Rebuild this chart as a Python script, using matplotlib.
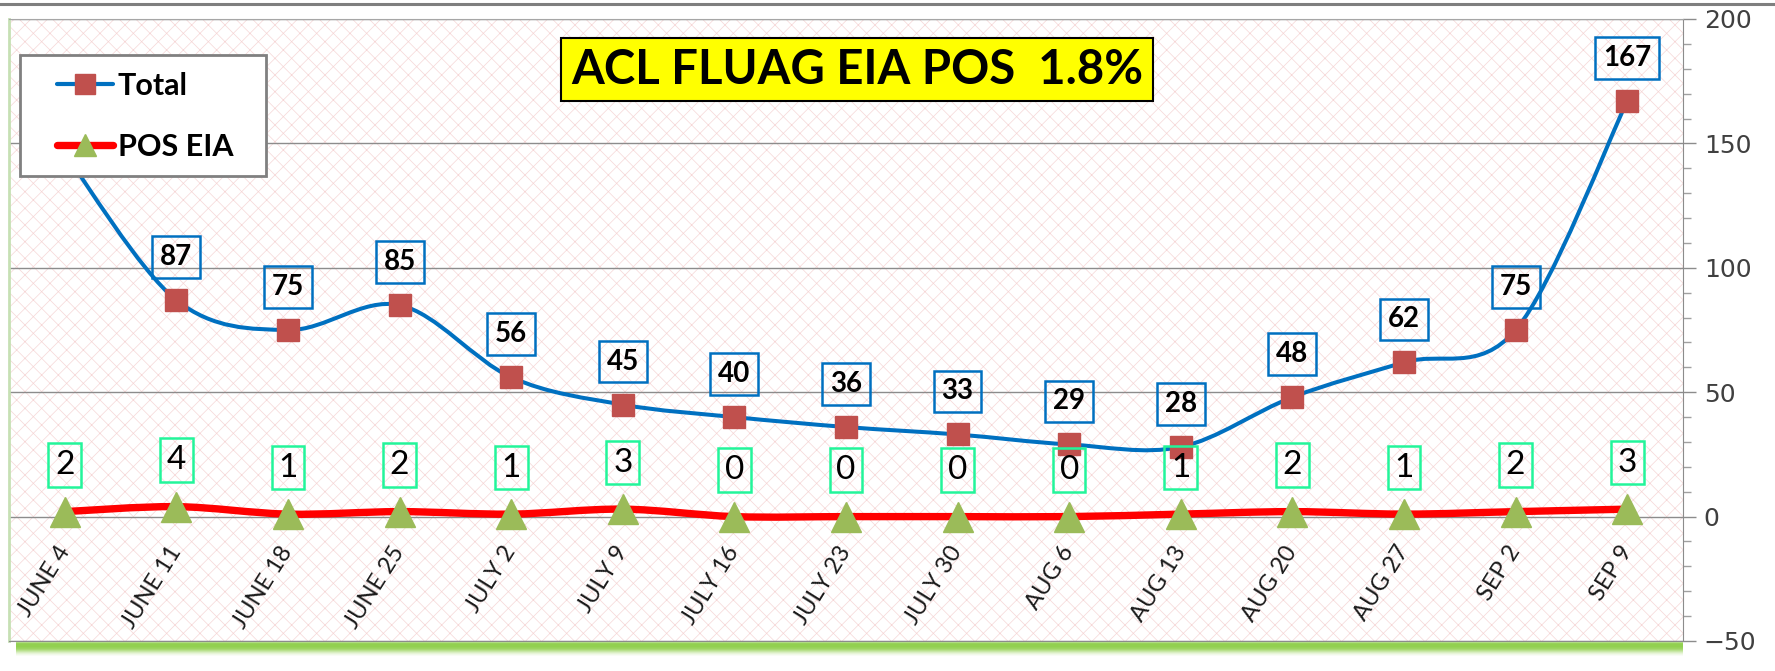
import numpy as np
import matplotlib
matplotlib.use("Agg")
import matplotlib.pyplot as plt
from matplotlib.path import Path
from matplotlib.patches import PathPatch, Rectangle
from matplotlib.lines import Line2D
from matplotlib.ticker import MultipleLocator

# DATA
dates = ["JUNE 4", "JUNE 11", "JUNE 18", "JUNE 25", "JULY 2", "JULY 9", "JULY 16",
         "JULY 23", "JULY 30", "AUG 6", "AUG 13", "AUG 20", "AUG 27", "SEP 2", "SEP 9"]
total = [146, 87, 75, 85, 56, 45, 40, 36, 33, 29, 28, 48, 62, 75, 167]
pos_eia = [2, 4, 1, 2, 1, 3, 0, 0, 0, 0, 1, 2, 1, 2, 3]
title = "ACL FLUAG EIA POS  1.8%"
y_ticks = [-50, 0, 50, 100, 150, 200]

W, H = 1775, 671
FONT = ["Lato", "DejaVu Sans"]
plt.rcParams["hatch.linewidth"] = 0.5


# excel style smoothed line (bezier through the points)
def smooth_path(xs, ys):
    pts = np.column_stack([xs, ys]).astype(float)
    n = len(pts)
    verts = [pts[0]]
    codes = [Path.MOVETO]
    for i in range(n - 1):
        p0 = pts[i - 1] if i > 0 else pts[i]
        p1 = pts[i]
        p2 = pts[i + 1]
        p3 = pts[i + 2] if i + 2 < n else pts[i + 1]
        verts += [p1 + (p2 - p0) / 6, p2 - (p3 - p1) / 6, p2]
        codes += [Path.CURVE4] * 3
    return Path(verts, codes)


fig = plt.figure(figsize=(W / 100, H / 100), dpi=100)
ax = fig.add_axes([9 / W, 1 - 641 / H, 1674 / W, 622 / H])
ax.set_facecolor("white")
ax.add_patch(Rectangle((0, 0), 1, 1, transform=ax.transAxes, facecolor="white",
                       edgecolor="#f6d6d6", hatch="xx", lw=0, zorder=0))

x = np.arange(len(dates))

# lines
ax.add_patch(PathPatch(smooth_path(x, total), fill=False, edgecolor="#0070C0", lw=2.9, zorder=3))
ax.add_patch(PathPatch(smooth_path(x, pos_eia), fill=False, edgecolor="#FF0000", lw=5.3, zorder=3,
                       capstyle="round"))
ax.plot(x, total, ls="none", marker="s", ms=16, mfc="#C0504D", mec="#C0504D", zorder=4)
ax.plot(x, pos_eia, ls="none", marker="^", ms=22, mfc="#9BBB59", mec="#9BBB59", zorder=4)

# data labels
for i, v in enumerate(total):
    ax.annotate(str(v), (i, v), xytext=(0, 31), textcoords="offset points",
                ha="center", va="center", fontsize=20, fontweight="bold", family=FONT,
                bbox=dict(boxstyle="square,pad=0.28", fc="none", ec="#0070C0", lw=1.8),
                zorder=6)
for i, v in enumerate(pos_eia):
    ax.annotate(str(v), (i, v), xytext=(0, 33.5), textcoords="offset points",
                ha="center", va="center", fontsize=24, family=FONT,
                bbox=dict(boxstyle="square,pad=0.2", fc="none", ec="#22F59A", lw=1.8),
                zorder=6)

# category labels sit just under the zero line
ax.set_xticks([])
for i, d in enumerate(dates):
    ax.text(i, -12.5, d, rotation=58, rotation_mode="anchor", ha="right", va="center",
            fontsize=17, family=FONT, color="#1a1a1a", zorder=5)

ax.set_xlim(-0.5, len(dates) - 0.5)
ax.set_ylim(-50, 200)
ax.yaxis.tick_right()
ax.set_yticks(y_ticks)
ax.yaxis.set_minor_locator(MultipleLocator(10))
ax.tick_params(axis="y", which="major", direction="out", length=9, width=1,
               color="#8c8c8c", labelsize=18, labelcolor="#404040", pad=6)
ax.tick_params(axis="y", which="minor", direction="out", length=6, width=1, color="#a0a0a0")
for t in ax.get_yticklabels():
    t.set_family("DejaVu Sans")
ax.grid(axis="y", which="major", color="#8c8c8c", lw=1, zorder=1)

ax.spines["right"].set_color("#8c8c8c")
ax.spines["top"].set_color("#a6a6a6")
ax.spines["bottom"].set_color("#8c8c8c")
ax.spines["left"].set_color("#c6e0b4")
ax.spines["left"].set_linewidth(2)

# legend: own frame, frameless legend inside it
ax.add_patch(Rectangle((11 / 1674, 1 - 157 / 622), 246 / 1674, 121 / 622, transform=ax.transAxes,
                       facecolor="white", edgecolor="#808080", lw=2, zorder=9))
handles = [
    Line2D([], [], color="#0070C0", lw=3, marker="s", ms=15, mfc="#C0504D", mec="#C0504D",
           solid_capstyle="round"),
    Line2D([], [], color="#FF0000", lw=5.3, marker="^", ms=16, mfc="#9BBB59", mec="#9BBB59",
           solid_capstyle="round"),
]
leg = ax.legend(handles, ["Total", "POS EIA"], loc="upper left",
                bbox_to_anchor=(48 / 1674, 1 - 53 / 622), frameon=False,
                borderaxespad=0, borderpad=0, labelspacing=1.08, handlelength=1.83,
                handletextpad=0.16, prop={"family": FONT, "size": 22, "weight": "bold"})
leg.set_zorder(10)

# title box
fig.text(857 / W, 1 - 69.5 / H, title, fontsize=34, fontweight="bold", family=FONT,
         ha="center", va="center",
         bbox=dict(boxstyle="square,pad=0.21", fc="#FFFF00", ec="black", lw=1.5), zorder=20)

# green shadow under plot area
shade = [0.7, 0.95, 1.0, 1.0, 1.0, 0.95, 0.9, 0.8, 0.65, 0.5, 0.35, 0.22, 0.12, 0.05]
for k, a in enumerate(shade):
    fig.patches.append(Rectangle((16 / W, 1 - (642 + k + 1) / H), (1683 - 16) / W, 1 / H,
                                 transform=fig.transFigure, color="#92D050", alpha=a, lw=0))
# grey line on top of the picture
fig.add_artist(Line2D([0, 1], [1 - 4 / H, 1 - 4 / H], transform=fig.transFigure,
                      color="#7f7f7f", lw=2.2))

fig.savefig("out.png", dpi=100)
